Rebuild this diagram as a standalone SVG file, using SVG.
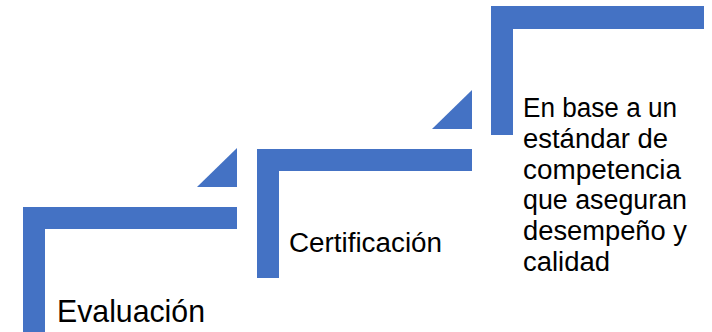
<svg xmlns="http://www.w3.org/2000/svg" width="712" height="332" viewBox="0 0 712 332">
<style>
.shape{fill:#4472C4;}
.txt{font-family:"Liberation Sans",Arial,sans-serif;fill:#000000;}
.t27{font-size:27px;}
.t31{font-size:30.5px;}
</style>
<rect width="712" height="332" fill="#FFFFFF"/>
<g id="connectors">
<path class="shape" d="M197,187 L237,148 V187 Z"/>
<path class="shape" d="M432,129 L472,90 V129 Z"/>
</g>
<g id="step1">
<path class="shape" d="M23,207 H237 V229 H45 V332 H23 Z"/>
<text class="txt t31" x="57" y="322" textLength="148" lengthAdjust="spacingAndGlyphs">Evaluación</text>
</g>
<g id="step2">
<path class="shape" d="M257,149 H472 V171 H279 V278 H257 Z"/>
<text class="txt t27" x="289" y="252" textLength="153" lengthAdjust="spacingAndGlyphs">Certificación</text>
</g>
<g id="step3">
<path class="shape" d="M491,6 H704 V29 H513 V135 H491 Z"/>
<text class="txt t27" x="523" y="117" textLength="154" lengthAdjust="spacingAndGlyphs">En base a un</text>
<text class="txt t27" x="523" y="148" textLength="145" lengthAdjust="spacingAndGlyphs">estándar de</text>
<text class="txt t27" x="523" y="178.5" textLength="158" lengthAdjust="spacingAndGlyphs">competencia</text>
<text class="txt t27" x="523" y="209" textLength="164" lengthAdjust="spacingAndGlyphs">que aseguran</text>
<text class="txt t27" x="523" y="240" textLength="164" lengthAdjust="spacingAndGlyphs">desempeño y</text>
<text class="txt t27" x="523" y="270.5" textLength="87" lengthAdjust="spacingAndGlyphs">calidad</text>
</g>
</svg>
